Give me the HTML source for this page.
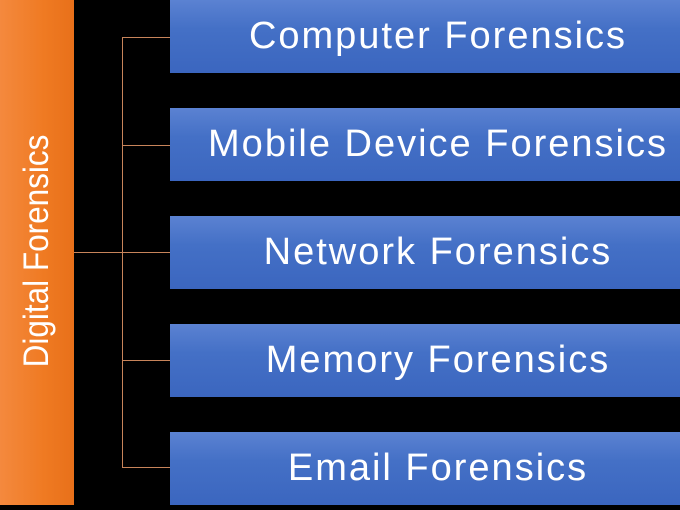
<!DOCTYPE html>
<html><head><style>
body{margin:0;width:680px;height:510px;background:#000;position:relative;overflow:hidden;font-family:"Liberation Sans",sans-serif}
.bar{position:absolute;left:0;top:0;width:74px;height:505px;background:linear-gradient(90deg,#f4893e,#ef7a22 60%,#e8701a)}
.bar span{position:absolute;left:37px;top:251px;transform:translate(-50%,-50%) rotate(-90deg) scaleX(0.9);color:#fff;font-size:35px;white-space:nowrap}
.box{position:absolute;left:170px;width:536px;height:73px;background:linear-gradient(180deg,#5b82d2,#4470c6 40%,#3b66bf);color:#fff;font-size:38px;letter-spacing:2px;text-align:center;line-height:73px;white-space:nowrap}
.l{position:absolute;background:#c8845a}
</style></head><body>
<div class="bar"><span>Digital Forensics</span></div>
<div class="l" style="left:122px;top:37px;width:1px;height:431px"></div>
<div class="l" style="left:74px;top:252px;width:49px;height:1px"></div>
<div class="l" style="left:122px;top:37px;width:48px;height:1px"></div>
<div class="l" style="left:122px;top:145px;width:48px;height:1px"></div>
<div class="l" style="left:122px;top:252px;width:48px;height:1px"></div>
<div class="l" style="left:122px;top:360px;width:48px;height:1px"></div>
<div class="l" style="left:122px;top:467px;width:48px;height:1px"></div>
<div class="box" style="top:0">Computer Forensics</div>
<div class="box" style="top:108px">Mobile Device Forensics</div>
<div class="box" style="top:216px">Network Forensics</div>
<div class="box" style="top:324px">Memory Forensics</div>
<div class="box" style="top:432px">Email Forensics</div>
</body></html>
